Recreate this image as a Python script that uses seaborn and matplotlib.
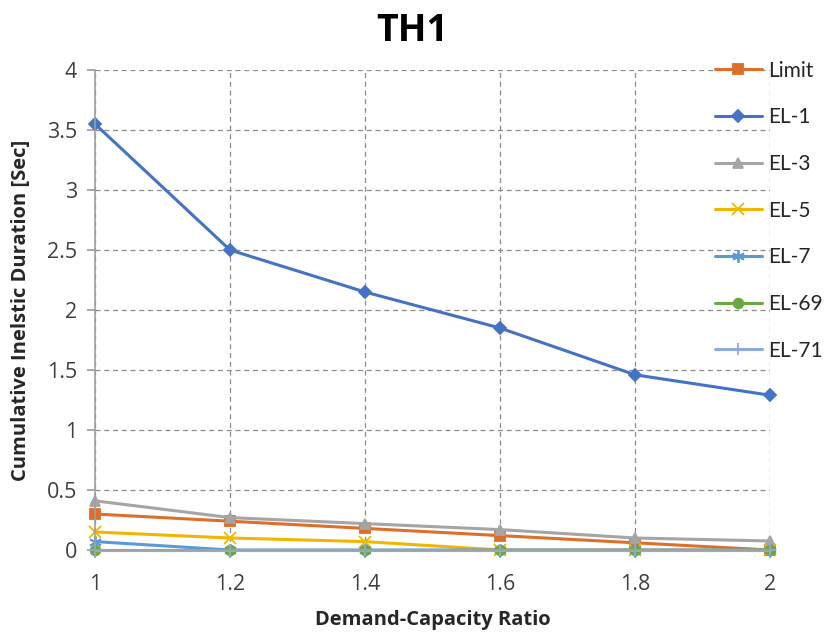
import matplotlib
matplotlib.use("Agg")
import matplotlib.pyplot as plt
import seaborn as sns
import pandas as pd

ratios = [1.0, 1.2, 1.4, 1.6, 1.8, 2.0]
series_names = ["Limit", "EL-1", "EL-3", "EL-5", "EL-7", "EL-69", "EL-71"]
limit = [0.30, 0.24, 0.18, 0.12, 0.06, 0.00]
el_1 = [3.55, 2.50, 2.15, 1.85, 1.46, 1.29]
el_3 = [0.41, 0.27, 0.22, 0.17, 0.10, 0.075]
el_5 = [0.15, 0.10, 0.07, 0.00, 0.00, 0.00]
el_7 = [0.07, 0.00, 0.00, 0.00, 0.00, 0.00]
el_69 = [0.00, 0.00, 0.00, 0.00, 0.00, 0.00]
el_71 = [0.00, 0.00, 0.00, 0.00, 0.00, 0.00]
x_ticks = [1, 1.2, 1.4, 1.6, 1.8, 2]
x_tick_labels = ["1", "1.2", "1.4", "1.6", "1.8", "2"]
y_ticks = [0, 0.5, 1, 1.5, 2, 2.5, 3, 3.5, 4]
y_tick_labels = ["0", "0.5", "1", "1.5", "2", "2.5", "3", "3.5", "4"]

values = [limit, el_1, el_3, el_5, el_7, el_69, el_71]
rows = []
for name, vals in zip(series_names, values):
    for r, v in zip(ratios, vals):
        rows.append({"ratio": r, "duration": v, "series": name})
df = pd.DataFrame(rows)

palette = {
    "Limit": "#DD6F2A",
    "EL-1": "#4472C4",
    "EL-3": "#A5A5A5",
    "EL-5": "#F2B600",
    "EL-7": "#5B9BD5",
    "EL-69": "#6AA842",
    "EL-71": "#8FAADC",
}
markers = {
    "Limit": "s",
    "EL-1": "D",
    "EL-3": "^",
    "EL-5": "x",
    "EL-7": (6, 2, 0),
    "EL-69": "o",
    "EL-71": "+",
}
open_markers = {"EL-5", "EL-7", "EL-71"}
msize = {"Limit": 7, "EL-1": 6.5, "EL-3": 7.5, "EL-5": 8, "EL-7": 9,
         "EL-69": 7, "EL-71": 9}

sns.set_theme(style="white")
plt.rcParams["font.family"] = ["Open Sans", "DejaVu Sans"]

fig = plt.figure(figsize=(8.25, 6.35), dpi=100)
ax = fig.add_axes([95 / 825, 1 - 550 / 635, (770 - 95) / 825, (550 - 70) / 635])

for name in series_names:
    sub = df[df["series"] == name]
    sns.lineplot(
        data=sub, x="ratio", y="duration", color=palette[name],
        marker=markers[name], linewidth=2.2, markersize=msize[name],
        markeredgewidth=1.3, markeredgecolor=palette[name],
        markerfacecolor=("none" if name in open_markers else palette[name]),
        ax=ax, legend=False, clip_on=False,
    )

ax.set_xlim(1, 2)
ax.set_ylim(0, 4)
ax.set_xticks(x_ticks)
ax.set_xticklabels(x_tick_labels)
ax.set_yticks(y_ticks)
ax.set_yticklabels(y_tick_labels)
ax.grid(True, linestyle=(0, (4, 3)), color="#8C8C8C", linewidth=0.9)
ax.set_axisbelow(True)
for side in ("top", "right"):
    ax.spines[side].set_visible(False)
for side in ("left", "bottom"):
    ax.spines[side].set_color("#A0A0A0")
    ax.spines[side].set_linewidth(1.2)
ax.tick_params(axis="both", which="both", direction="out", length=6,
               color="#A0A0A0", labelsize=15.5, labelcolor="#404040")
ax.tick_params(axis="y", left=True, pad=7)
ax.tick_params(axis="x", bottom=True, pad=11)

label_font = dict(fontsize=14.5, fontweight="bold", color="#262626")
ax.set_xlabel("Demand-Capacity Ratio", va="center", **label_font)
ax.xaxis.set_label_coords(0.5, -(620 - 550) / 480)
ax.set_ylabel("Cumulative Inelstic Duration [Sec]", va="center", **label_font)
ax.yaxis.set_label_coords(-(95 - 21) / 675, 0.5)

fig.text(0.5, 1 - 31 / 635, "TH1", fontsize=27, fontweight="bold",
         ha="center", va="center", color="#000000")

handles = [
    plt.Line2D([], [], color=palette[n], marker=markers[n], linewidth=2.2,
               markersize=msize[n], markeredgewidth=1.3,
               markerfacecolor=("none" if n in open_markers else palette[n]),
               markeredgecolor=palette[n])
    for n in series_names
]
fig.legend(handles, series_names, loc="upper left",
           bbox_to_anchor=(696 / 825, 1 - 42 / 635), frameon=False,
           prop={"family": ["Lato", "DejaVu Sans"], "size": 15},
           labelspacing=1.28, handlelength=2.26,
           handletextpad=0.3, labelcolor="#262626")

fig.savefig("out.png", dpi=100, facecolor="white")
